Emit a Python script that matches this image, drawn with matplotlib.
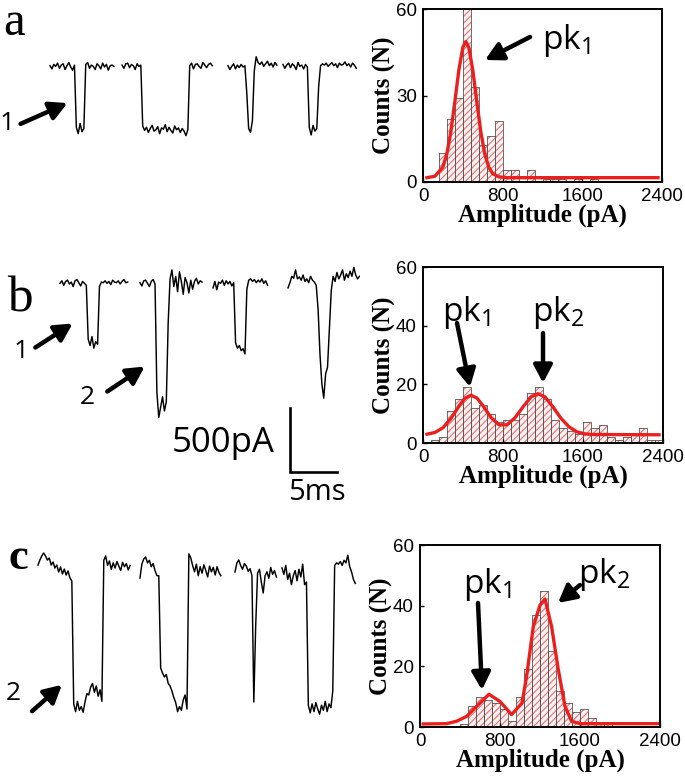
import numpy as np
import matplotlib
matplotlib.use("Agg")
import matplotlib.pyplot as plt

plt.rcParams["font.family"] = ["Open Sans", "DejaVu Sans"]
plt.rcParams["hatch.linewidth"] = 0.8

W, H = 685, 778

# ---------------- current traces: pA relative to open-pore level, one sample every 0.2 ms
DT_MS = 0.2
A_STARTS = [2.13, 9.79, 21.06, 26.91]
A_SEGS = [
    [10, -15, 20, 5, 30, -10, 15, 25, -20, 10, 35, 0, -25, 15,
     -470, -520, -440, -505, -480,
     20, 35, -10, 15, 5, -20, 25, 10, -15, 30, 0, 20, -25, 10, 15, 5],
    [15, -10, 25, 30, -5, 20, 10, -20, 25, 5, 15,
     -460, -495, -470, -510, -480, -455, -500, -490, -465, -520, -475, -485, -450,
     -505, -470, -495, -515, -460, -490, -475, -510, -480, -500, -535, -490,
     10, 30, -15, 20, 25, 5, -10, 35, 15, -5, 20, 30, 10],
    [10, -20, 5, 25, -15, 15, -5, 20, 0, 10,
     -200, -480, -510, -420, -30, 80,
     35, 20, 40, 5, 25, 45, 10, 30, 0, 35, 15],
    [20, -10, 15, 30, -5, 25, 10, -20, 35, 5, 15, -15, 20, 0,
     -470, -530, -455, -500, -480,
     -150, 10, 25, 15, 30, 5, 20, 35, 10, 25, -5, 30, 15, 20, 40, 10, 25, 0, 30, 15, -10],
]

B_STARTS = [3.19, 11.70, 19.47, 27.45]
B_SEGS = [
    [5, 25, -10, 20, 30, 0, 15, -20, 25, 35, 10, -15, 20, 5, -10,
     -430, -480, -410, -500, -450, -470,
     -20, 15, 10, 25, 5, 20, -5, 30, 15, 10, 25, 0, 20, 35, 10, 15],
    [10, -15, 25, 30, 5, -20, 20, 35, 0,
     -850, -1040, -960, -880, -990, -920, -300,
     40, 110, -20, 60, -60, 95, 20, -80, 50, 10, -70, 30, -40, 20, 45, 0, 25, 15],
    [-30, 20, -45, 15, 5, 30, -10, 25, 0, 20, -15, 10,
     -460, -500, -480, -520, -505, -545,
     -40, 30, 40, 20, 35, 10, 30, 15, 40, 5, 25, -10],
    [-30, 10, 60, 45, 110, 40, 55, 30, 70, 20, 40, 10, 60, 30, 15, -10,
     -200, -550, -780, -890, -700, -650, -350, -50,
     60, 20, 90, 40, 70, 110, 30, 80, 50, 100, 60, 130, 70, 40, 60],
]

C_STARTS = [0.85, 11.70, 21.81, 26.81]
C_SEGS = [
    [23, 62, 94, 117, 94, 62, 78, 23, 47, 0, 23, -31, 8, -47, -8, -55, -23, -78, -101,
     -1060, -1120, -1040, -1110, -1080, -1125, -1045, -980, -990, -930, -900, -970,
     -920, -1000, -950, -1040,
     60, 94, 20, 55, -10, 40, 0, 50, 15, -20, 45, 10, 35, -15, 20],
    [-78, 30, 70, 86, 40, 60, 10, 35, -20, -60, -60,
     -780, -820, -850, -830, -900, -920, -960, -1010, -1050, -1120, -1080, -1110,
     -1030, -990, -1100,
     110, 80, 20, -30, 30, -60, 10, -40, 25, -20, -70, 15, -30, 5, -55, 10, -35, -60],
    [-31, 40, 62, 20, -10, 35, 15, -25, -5, -60,
     -1045, -450,
     -40, -10, -110, -195, -60, -30, -80, 5, -50, -20, -70],
    [0, -50, 20, -90, -40, -130, -60, -20, -100, -10, -70, 30, -130, -110,
     -1070, -1130, -1060, -1120, -1050, -1100, -1140, -1070, -1110, -1040, -1120,
     -1060, -1090, -960,
     20, 40, 30, 50, 20, 60, 40, 100, 10, -30, -90, -120],
]

SCALE_PA = 500
SCALE_MS = 5

# ---------------- amplitude histograms (80 pA bins, left edges)
BIN_W = 80
A_BINS = [160, 240, 320, 400, 480, 560, 640, 720, 800, 880, 960, 1040, 1120, 1200,
          1280, 1360, 1440, 1520, 1600, 1680]
A_COUNTS = [10, 22, 29, 60, 33, 13, 16, 21, 4, 4, 0, 4, 0, 1, 1, 1, 0, 1, 0, 1]
A_FIT_X = [40, 120, 200, 240, 280, 320, 360, 400, 430, 460, 500, 540, 580, 620, 660,
           700, 760, 840, 2360]
A_FIT_Y = [1.5, 2.0, 5.2, 9.8, 17.5, 27.9, 38.8, 46.7, 48.7, 46.7, 38.8, 27.9, 17.5,
           9.8, 5.2, 2.9, 1.8, 1.5, 1.5]

B_BINS = [80, 160, 240, 320, 400, 480, 560, 640, 720, 800, 880, 960, 1040, 1120, 1200,
          1280, 1360, 1440, 1520, 1600, 1680, 1760, 1840, 1920, 2000, 2080, 2160, 2240, 2320]
B_COUNTS = [1, 2, 11, 15, 19, 12, 13, 10, 7, 8, 8, 10, 17, 19, 15, 8, 5, 4, 3, 7, 5, 6,
            2, 1, 2, 3, 5, 1, 1]
B_FIT_X = [40, 120, 200, 280, 360, 420, 480, 540, 600, 680, 760, 840, 920, 1000, 1080,
           1150, 1220, 1300, 1380, 1460, 1540, 1620, 1700, 2360]
B_FIT_Y = [3.0, 3.6, 5.2, 8.4, 12.6, 15.3, 16.3, 15.3, 12.7, 8.7, 6.2, 6.2, 8.6, 12.3,
           15.7, 16.8, 15.7, 12.3, 8.4, 5.5, 3.8, 3.1, 2.9, 2.8]

C_BINS = [400, 480, 560, 640, 720, 800, 880, 960, 1040, 1120, 1200, 1280, 1360, 1440,
          1520, 1600, 1680, 1760, 1840]
C_COUNTS = [1, 7, 10, 9, 8, 6, 2, 10, 19, 37, 45, 25, 12, 8, 5, 6, 3, 1, 1]
C_FIT_X = [33, 266, 366, 466, 566, 690, 800, 916, 1020, 1066, 1133, 1200, 1250, 1316,
           1383, 1450, 1516, 1600, 2383]
C_FIT_Y = [1.0, 1.1, 1.9, 3.5, 6.8, 10.8, 8.4, 4.1, 7.9, 16.7, 33.1, 40.2, 42.2, 33.1,
           18.9, 6.8, 1.9, 1.1, 1.1]

# ---------------- layout helpers (pixel positions in the 685x778 figure)
PX_PER_MS = 9.4
PA_PER_PX = 7.8
TR_LEFT, TR_RIGHT = 30, 360


def fx(px):
    return px / W


def fy(py):
    return 1 - py / H


def trace_axes(fig, top_px, bottom_px, base_px):
    ax = fig.add_axes([fx(TR_LEFT), fy(bottom_px), (TR_RIGHT - TR_LEFT) / W,
                       (bottom_px - top_px) / H])
    ax.set_xlim(0, (TR_RIGHT - TR_LEFT) / PX_PER_MS)
    ax.set_ylim(-(bottom_px - base_px) * PA_PER_PX, (base_px - top_px) * PA_PER_PX)
    ax.axis("off")
    return ax


def draw_trace(ax, starts, segs):
    for t0, seg in zip(starts, segs):
        t = t0 + DT_MS * np.arange(len(seg))
        ax.plot(t, seg, color="black", lw=1.05)


def hist_axes(fig, left, top, right, bottom, bins, counts, fit_x, fit_y, yticks):
    ax = fig.add_axes([fx(left), fy(bottom), (right - left) / W, (bottom - top) / H])
    ax.bar(bins, counts, width=BIN_W, align="edge", facecolor="#fdf0f0",
           edgecolor="#e07272", hatch="/////", linewidth=0)
    ax.bar(bins, counts, width=BIN_W, align="edge", fill=False,
           edgecolor="#555555", linewidth=0.6)
    ax.plot(fit_x, fit_y, color="#ec1f1f", lw=2.4)
    ax.set_xlim(0, 2400)
    ax.set_ylim(0, 60)
    ax.set_xticks([0, 800, 1600, 2400])
    ax.set_yticks(yticks)
    ax.tick_params(direction="in", length=3, width=1, labelsize=13.5)
    ax.tick_params(axis="x", pad=4)
    ax.tick_params(axis="y", pad=4.5)
    for lab in ax.get_xticklabels() + ax.get_yticklabels():
        lab.set_fontfamily("Liberation Sans")
    for sp in ax.spines.values():
        sp.set_linewidth(1.4)
    lab_font = dict(family="Liberation Serif", weight="bold", size=18)
    ax.set_xlabel("Amplitude (pA)", fontdict=lab_font, labelpad=-1)
    ax.set_ylabel("Counts (N)", fontdict=lab_font, labelpad=0)
    return ax


ARROW = dict(arrowstyle="-|>,head_length=0.75,head_width=0.4", lw=3.2, color="black",
             shrinkA=0, shrinkB=0, mutation_scale=14)


def fig_arrow(fig, tail, head):
    fig.add_artist(matplotlib.patches.FancyArrowPatch(
        (fx(tail[0]), fy(tail[1])), (fx(head[0]), fy(head[1])),
        transform=fig.transFigure, arrowstyle=ARROW["arrowstyle"], lw=ARROW["lw"],
        color="black", mutation_scale=ARROW["mutation_scale"]))


def pk_label(ax, text_xy, tail, head, n):
    ax.text(text_xy[0], text_xy[1], r"$\mathregular{pk_%d}$" % n, fontsize=24,
            ha="left", va="baseline", family="Open Sans")
    ax.annotate("", xy=head, xytext=tail, arrowprops=ARROW)


fig = plt.figure(figsize=(W / 100, H / 100), dpi=100)

# traces
ax_a = trace_axes(fig, 50, 145, 67)
draw_trace(ax_a, A_STARTS, A_SEGS)
ax_b = trace_axes(fig, 265, 505, 284)
draw_trace(ax_b, B_STARTS, B_SEGS)
ax_c = trace_axes(fig, 540, 720, 568)
draw_trace(ax_c, C_STARTS, C_SEGS)

# scale bar
sb_t = (290 - TR_LEFT) / PX_PER_MS
sb_top = -(408 - 284) * PA_PER_PX
ax_b.plot([sb_t, sb_t, sb_t + SCALE_MS], [sb_top, sb_top - SCALE_PA, sb_top - SCALE_PA],
          color="black", lw=1.9, solid_joinstyle="miter")
ax_b.text(sb_t - 1.6, -(452 - 284) * PA_PER_PX, "%dpA" % SCALE_PA, fontsize=25,
          ha="right", va="baseline")
ax_b.text(sb_t - 0.2, -(500 - 284) * PA_PER_PX, "%dms" % SCALE_MS, fontsize=21,
          ha="left", va="baseline")

# panel letters
fig.text(fx(3), fy(35), "a", family="Liberation Serif", fontsize=35, va="baseline")
fig.text(fx(7), fy(312), "b", family="Liberation Serif", fontsize=37, va="baseline")
fig.text(fx(9), fy(569), "c", family="Liberation Serif", fontsize=32, weight="bold",
         va="baseline")

# event arrows on traces
fig.text(fx(7), fy(124), "1", fontsize=19, ha="center", va="center")
fig_arrow(fig, (18, 125), (70, 102))
fig.text(fx(21), fy(352), "1", fontsize=19, ha="center", va="center")
fig_arrow(fig, (33, 349), (75, 322))
fig.text(fx(87), fy(398), "2", fontsize=19, ha="center", va="center")
fig_arrow(fig, (105, 393), (147, 365))
fig.text(fx(13), fy(693), "2", fontsize=19, ha="center", va="center")
fig_arrow(fig, (30, 713), (64, 683))

# histograms
h_a = hist_axes(fig, 423, 9, 662, 182, A_BINS, A_COUNTS, A_FIT_X, A_FIT_Y, [0, 30, 60])
pk_label(h_a, (1195, 46), (1075, 50.3), (623, 42.3), 1)

h_b = hist_axes(fig, 423, 267, 663, 443, B_BINS, B_COUNTS, B_FIT_X, B_FIT_Y, [0, 20, 40, 60])
pk_label(h_b, (190, 41.5), (340, 40.9), (470, 19.1), 1)
pk_label(h_b, (1090, 41.5), (1200, 37.5), (1200, 20.5), 2)

h_c = hist_axes(fig, 420, 545, 660, 727, C_BINS, C_COUNTS, C_FIT_X, C_FIT_Y, [0, 20, 40, 60])
pk_label(h_c, (430, 44.2), (580, 40.9), (620, 12.2), 1)
pk_label(h_c, (1580, 47.5), (1600, 46.8), (1380, 40.9), 2)

fig.savefig("out.png", dpi=100)
